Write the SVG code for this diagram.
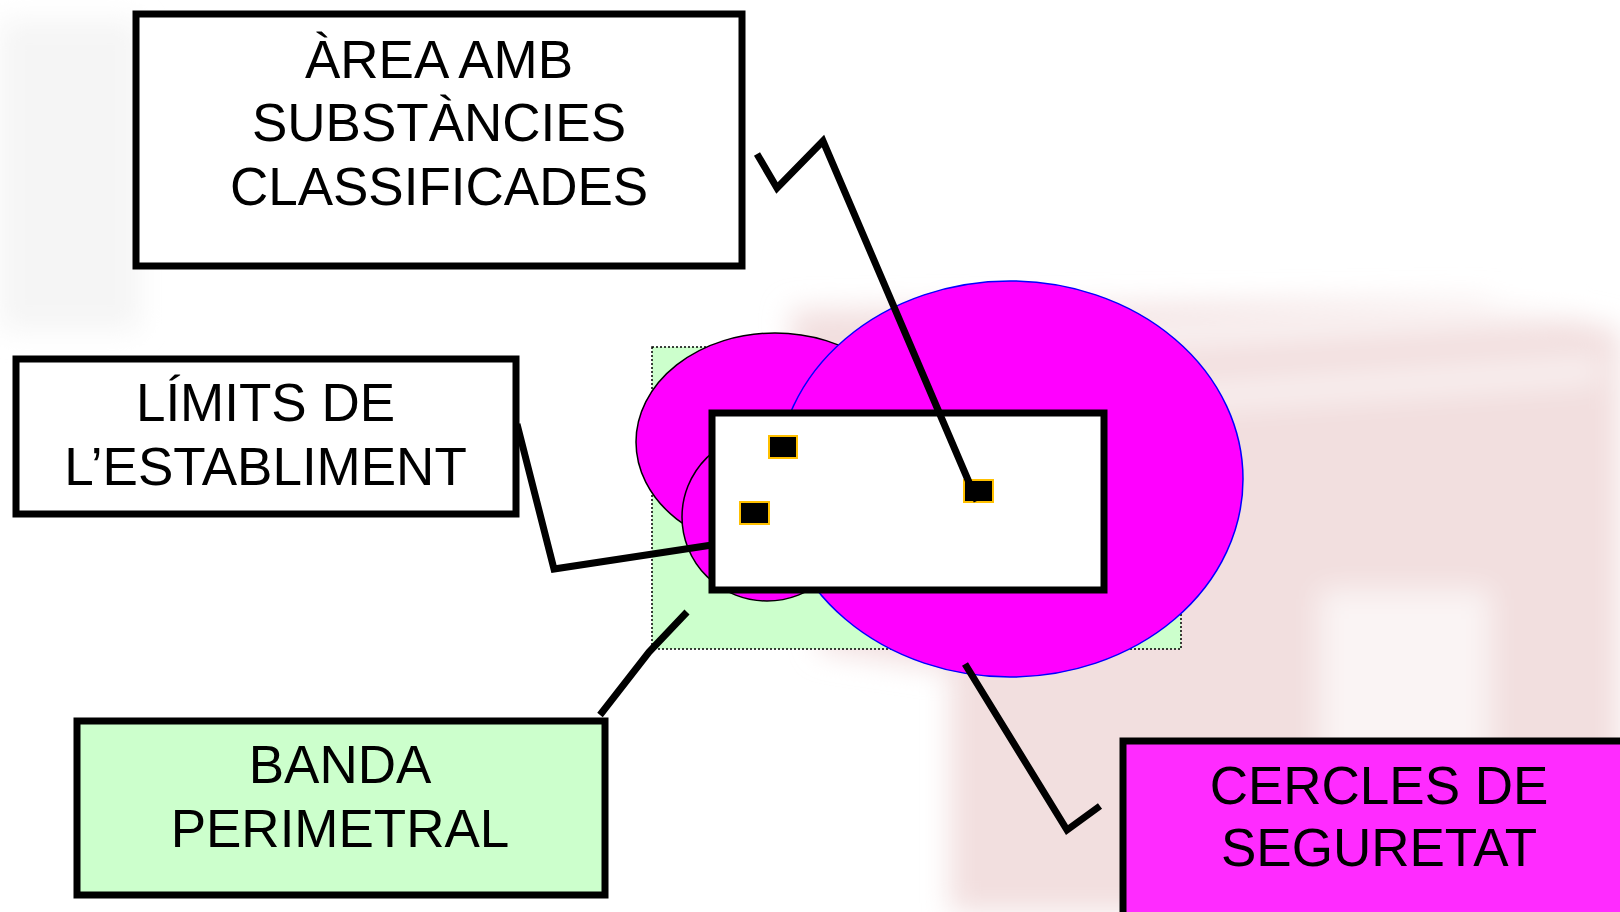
<svg xmlns="http://www.w3.org/2000/svg" width="1620" height="912" viewBox="0 0 1620 912">
<style>
.lbl{font-family:"Liberation Sans",Arial,Helvetica,sans-serif;font-size:53px;fill:#000;text-anchor:middle}
.box{stroke:#000;stroke-width:7}
.conn{fill:none;stroke:#000;stroke-width:7;stroke-linejoin:miter}
.item{fill:#000;stroke:#FFC000;stroke-width:2}
</style>
<defs>
<filter id="blur" x="-20%" y="-20%" width="140%" height="140%"><feGaussianBlur stdDeviation="14"/></filter>
</defs>
<rect width="1620" height="912" fill="#fff"/>
<g id="watermark" filter="url(#blur)">
<rect x="0" y="20" width="140" height="310" fill="#F5F5F5"/>
<polygon points="790,310 1480,300 1620,330 1620,912 950,912 950,670 820,650" fill="#F2DFDF"/>
<path d="M1080,340 L1560,310" stroke="#fff" stroke-width="22" opacity="0.7"/>
<path d="M1150,400 L1600,370" stroke="#fff" stroke-width="22" opacity="0.6"/>
<rect x="1320" y="590" width="170" height="310" fill="#FAF4F4"/>
</g>
<g id="banda-perimetral-area">
<rect x="652" y="347" width="529" height="302" fill="#CCFFCC" stroke="#000" stroke-width="1.5" stroke-dasharray="2,2"/>
</g>
<g id="cercles">
<ellipse cx="775" cy="442" rx="139" ry="109" fill="#FF00FF" stroke="#000" stroke-width="1.5"/>
<ellipse cx="767" cy="517" rx="85" ry="84" fill="#FF00FF" stroke="#000" stroke-width="1.5"/>
<ellipse cx="1010" cy="479" rx="233" ry="198" fill="#FF00FF" stroke="#0000FF" stroke-width="1.5"/>
</g>
<g id="establiment">
<rect x="712" y="413" width="392" height="177" fill="#fff" class="box"/>
<rect x="769" y="436" width="28" height="22" class="item"/>
<rect x="740" y="502" width="29" height="22" class="item"/>
<rect x="964" y="480" width="29" height="22" class="item"/>
</g>
<g id="connectors">
<polyline class="conn" points="757,154 777,188 823,141 977,501"/>
<polyline class="conn" points="517,424 554,569 712,545"/>
<polyline class="conn" points="600,715 649,652 687,612"/>
<polyline class="conn" points="965,664 1067,830 1100,806"/>
</g>
<g id="node-area">
<rect x="136" y="14" width="606" height="252" fill="#fff" class="box"/>
<text class="lbl" x="439" y="77.5">ÀREA AMB</text>
<text class="lbl" x="439" y="140.5">SUBSTÀNCIES</text>
<text class="lbl" x="439" y="204.5">CLASSIFICADES</text>
</g>
<g id="node-limits">
<rect x="16" y="359" width="500" height="155" fill="#fff" class="box"/>
<text class="lbl" x="265.5" y="420.5">LÍMITS DE</text>
<text class="lbl" x="265.5" y="484.5">L’ESTABLIMENT</text>
</g>
<g id="node-banda">
<rect x="77" y="721" width="528" height="174" fill="#CCFFCC" class="box"/>
<text class="lbl" x="340" y="783">BANDA</text>
<text class="lbl" x="340" y="847">PERIMETRAL</text>
</g>
<g id="node-cercles">
<rect x="1123" y="741" width="520" height="190" fill="#FF2BFF" class="box"/>
<text class="lbl" x="1379" y="804">CERCLES DE</text>
<text class="lbl" x="1379" y="866">SEGURETAT</text>
</g>
</svg>
